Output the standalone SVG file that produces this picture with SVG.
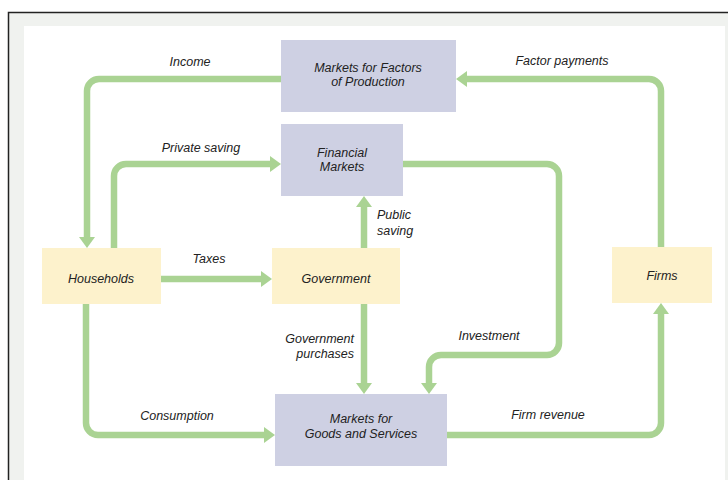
<svg xmlns="http://www.w3.org/2000/svg" width="728" height="480" viewBox="0 0 728 480">
<style>
.mk{fill:#ced0e3}
.hh{fill:#fdf2cc}
.t{font-family:"Liberation Sans",Arial,sans-serif;font-style:italic;font-size:12.5px;fill:#222;text-anchor:middle}
.l{text-anchor:start}
.r{text-anchor:end}
.c{fill:none;stroke:#aad393;stroke-width:6.5;stroke-linejoin:round;marker-end:url(#ah)}
</style>
<defs>
<marker id="ah" markerUnits="userSpaceOnUse" markerWidth="11" markerHeight="16" viewBox="0 0 11 16" refX="5" refY="8" orient="auto">
<path d="M0,0 L11,8 L0,16 z" fill="#aad393"/>
</marker>
</defs>
<rect x="0" y="0" width="728" height="480" fill="#ffffff"/>
<rect x="9" y="13" width="719" height="467" fill="#f0f2ef"/>
<rect x="24" y="26" width="701" height="454" fill="#ffffff"/>
<path d="M8.5,480 V12.5 H728" fill="none" stroke="#222" stroke-width="1.5"/>

<g id="connectors">
<path id="income" class="c" d="M281,79 H99 A12,12 0 0 0 87,91 V242"/>
<path id="private-saving" class="c" d="M114,248 V176 A12,12 0 0 1 126,164 H275"/>
<path id="investment" class="c" d="M403,164 H547 A12,12 0 0 1 559,176 V343 A12,12 0 0 1 547,355 H441 A12,12 0 0 0 429,367 V388"/>
<path id="public-saving" class="c" d="M364,248 V202"/>
<path id="taxes" class="c" d="M161,279 H266"/>
<path id="gov-purchases" class="c" d="M364,304 V388"/>
<path id="consumption" class="c" d="M86,304 V423 A12,12 0 0 0 98,435 H269"/>
<path id="firm-revenue" class="c" d="M447,435 H649 A12,12 0 0 0 661,423 V309"/>
<path id="factor-payments" class="c" d="M661,247 V91 A12,12 0 0 0 649,79 H462"/>
<text class="t" x="190" y="66">Income</text>
<text class="t" x="562" y="65">Factor payments</text>
<text class="t" x="201" y="152">Private saving</text>
<text class="t l" x="377" y="219">Public</text>
<text class="t l" x="377" y="235">saving</text>
<text class="t" x="209" y="263">Taxes</text>
<text class="t r" x="354" y="343">Government</text>
<text class="t r" x="354" y="358">purchases</text>
<text class="t" x="489" y="340">Investment</text>
<text class="t" x="177" y="420">Consumption</text>
<text class="t" x="548" y="419">Firm revenue</text>
</g>

<g id="factor-markets">
<rect class="mk" x="281" y="40" width="175" height="72"/>
<text class="t" x="368" y="72">Markets for Factors</text>
<text class="t" x="368" y="86">of Production</text>
</g>
<g id="financial-markets">
<rect class="mk" x="281" y="124" width="122" height="72"/>
<text class="t" x="342" y="157">Financial</text>
<text class="t" x="342" y="171">Markets</text>
</g>
<g id="households">
<rect class="hh" x="42" y="248" width="119" height="56"/>
<text class="t" x="101" y="283">Households</text>
</g>
<g id="government">
<rect class="hh" x="272" y="248" width="128" height="56"/>
<text class="t" x="336" y="283">Government</text>
</g>
<g id="firms">
<rect class="hh" x="612" y="247" width="100" height="56"/>
<text class="t" x="662" y="280">Firms</text>
</g>
<g id="goods-markets">
<rect class="mk" x="275" y="394" width="172" height="72"/>
<text class="t" x="361" y="423">Markets for</text>
<text class="t" x="361" y="438">Goods and Services</text>
</g>
</svg>
